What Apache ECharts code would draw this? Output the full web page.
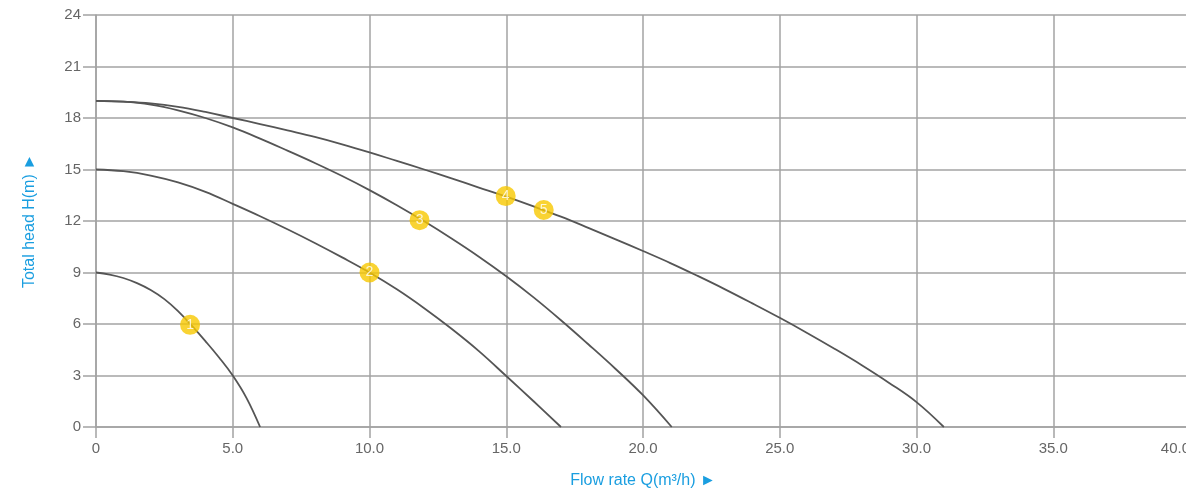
<!DOCTYPE html>
<html>
<head>
<meta charset="utf-8">
<script src="https://cdn.jsdelivr.net/npm/echarts@6/dist/echarts.min.js"></script>
<style>html,body{margin:0;padding:0;background:#fff;overflow:hidden;}#c{width:1186px;height:491px;}</style>
</head>
<body>
<div id="c"></div>
<script>
// Pump curves: [flow Q (m3/h), head H (m)]
const curve1 = [[0,9],[0.5,8.88],[1,8.68],[1.5,8.38],[2,7.98],[2.5,7.45],[3,6.75],[3.5,5.9],[4,5.0],[4.5,4.05],[5,3.0],[5.5,1.7],[6,0]];
const curve2 = [[0,15],[1,14.9],[2,14.65],[3,14.25],[4,13.7],[5,13.0],[6,12.28],[7,11.52],[8,10.72],[9,9.88],[10,9.0],[11,8.02],[12,6.92],[13,5.72],[14,4.42],[15,2.97],[16,1.5],[17,0]];
const curve3 = [[0,19],[1,18.95],[2,18.78],[3,18.45],[4,18.0],[5,17.45],[6,16.8],[7,16.1],[8,15.38],[9,14.62],[10,13.8],[11,12.92],[12,11.98],[13,10.98],[14,9.92],[15,8.78],[16,7.55],[17,6.22],[18,4.82],[19,3.38],[20,1.85],[21.05,0]];
const curve4 = [[0,19],[1,18.95],[2,18.85],[3,18.65],[4,18.35],[5,18.0],[6,17.65],[7,17.28],[8,16.9],[9,16.47],[10,16.0],[11,15.5],[12,15.0],[13,14.48],[14,13.95],[15,13.42],[16,12.85],[17,12.25],[18,11.6],[19,10.93],[20,10.25],[21,9.55],[22,8.8],[23,8.02],[24,7.2],[25,6.36],[26,5.48],[27,4.56],[28,3.6],[29,2.57],[30,1.45],[31,0]];
// Numbered operating points
const pointLabels = ['1','2','3','4','5'];
const pointValues = [[3.44,5.95],[10,9.0],[11.83,12.05],[14.98,13.45],[16.37,12.64]];
const xTicks = {min:0, max:40, step:5};
const yTicks = {min:0, max:24, step:3};
const xName = 'Flow rate Q(m³/h) ►';
const yName = 'Total head H(m) ►';

const chart = echarts.init(document.getElementById('c'), null, {renderer:'canvas'});
const gridColor = '#a3a3a3';
const lineStyle = {color:'#555', width:1.8};
const mkLine = d => ({type:'line', data:d, smooth:0.4, showSymbol:false, lineStyle:lineStyle, z:3, silent:true});
const font = 'Liberation Sans, Arial, sans-serif';

chart.setOption({
  animation:false,
  grid:{left:96, top:15, width:1094, height:412, containLabel:false, outerBoundsMode:'none'},
  xAxis:{
    type:'value', min:xTicks.min, max:xTicks.max, interval:xTicks.step,
    name:xName, nameLocation:'middle', nameGap:46,
    nameTextStyle:{color:'#1a9ee0', fontSize:16, fontFamily:font},
    axisLine:{show:true, lineStyle:{color:gridColor, width:1.5}},
    axisTick:{show:true, length:11, lineStyle:{color:gridColor, width:1.5}},
    splitLine:{show:true, lineStyle:{color:gridColor, width:1.5}},
    axisLabel:{color:'#666', fontSize:15, margin:14, fontFamily:font,
      alignMaxLabel:'right',
      formatter:v => v===0 ? '0' : v.toFixed(1)}
  },
  yAxis:{
    type:'value', min:yTicks.min, max:yTicks.max, interval:yTicks.step,
    name:yName, nameLocation:'middle', nameGap:58, nameRotate:90,
    nameTextStyle:{color:'#1a9ee0', fontSize:16, fontFamily:font},
    axisLine:{show:true, lineStyle:{color:gridColor, width:1.5}},
    axisTick:{show:true, length:13, lineStyle:{color:gridColor, width:1.5}},
    splitLine:{show:true, lineStyle:{color:gridColor, width:1.5}},
    axisLabel:{color:'#666', fontSize:15, margin:15, fontFamily:font}
  },
  series:[
    mkLine(curve1), mkLine(curve2), mkLine(curve3), mkLine(curve4),
    {
      type:'scatter', z:5, symbol:'circle', symbolSize:20,
      itemStyle:{color:'#f8c800'},
      data:pointValues.map((p,i)=>({value:p, name:pointLabels[i]})),
      label:{show:true, position:'inside', formatter:p=>p.name, color:'#fff', fontSize:14, fontFamily:font}
    }
  ]
});
</script>
</body>
</html>
